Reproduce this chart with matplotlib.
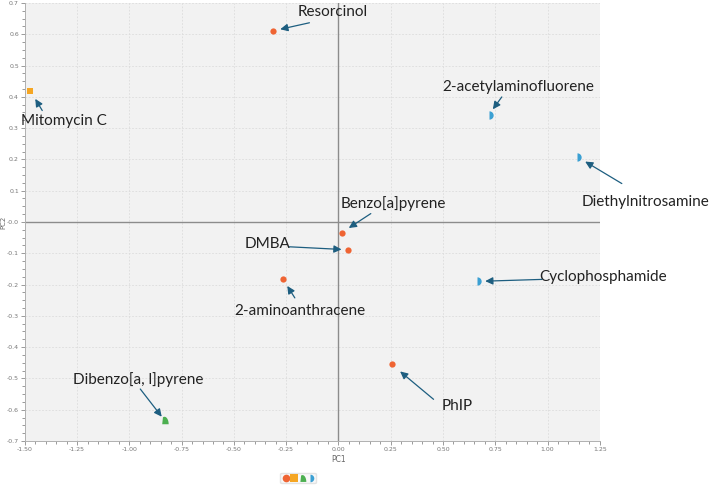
import numpy as np
import matplotlib
matplotlib.use("Agg")
import matplotlib.pyplot as plt
from matplotlib.path import Path
from matplotlib.lines import Line2D
from matplotlib.ticker import AutoMinorLocator, FixedLocator

# PCA scores
compounds = ["Resorcinol", "Mitomycin C", "2-acetylaminofluorene", "Diethylnitrosamine",
             "Benzo[a]pyrene", "DMBA", "2-aminoanthracene", "Cyclophosphamide",
             "PhIP", "Dibenzo[a, l]pyrene"]
pc1 = [-0.311, -1.474, 0.719, 1.140, 0.016, 0.048, -0.266, 0.662, 0.254, -0.833]
pc2 = [0.611, 0.420, 0.342, 0.209, -0.034, -0.089, -0.182, -0.190, -0.455, -0.633]
group = ["circle", "square", "half", "half", "circle", "circle", "circle", "half",
         "circle", "wedge"]

x_ticks = [-1.50, -1.25, -1.00, -0.75, -0.50, -0.25, 0.00, 0.25, 0.50, 0.75, 1.00, 1.25]
y_ticks = [0.7, 0.6, 0.5, 0.4, 0.3, 0.2, 0.1, 0.0, -0.1, -0.2, -0.3, -0.4, -0.5, -0.6, -0.7]
y_tick_labels = ["0.7", "0.6", "0.5", "0.4", "0.3", "0.2", "0.1", "-0.0", "-0.1", "-0.2",
                 "-0.3", "-0.4", "-0.5", "-0.6", "-0.7"]

# label layout: text offset, arrow tail offset (pixels from the point), gap at the head (pt)
label_layout = {
    "Resorcinol": ((59, 19), (36, 8), 5),
    "Mitomycin C": ((34, -30), (12, -20), 7),
    "2-acetylaminofluorene": ((29, 28), (13, 18), 5),
    "Diethylnitrosamine": ((69, -45), (45, -27), 7),
    "Benzo[a]pyrene": ((52, 29), (29, 19), 6),
    "DMBA": ((-81, 6), (-59, 3), 5),
    "2-aminoanthracene": ((17, -32), (12, -19), 6),
    "Cyclophosphamide": ((126, 4), (65, 2), 6),
    "PhIP": ((66, -42), (42, -35), 8),
    "Dibenzo[a, l]pyrene": ((-26, 40), (-24, 31), 3),
}

# sector-like marker for the green group
ang = np.linspace(0, np.pi * 0.62, 12)
wedge_verts = [(-0.55, -0.9)] + [(np.cos(a), np.sin(a) * 1.8 - 0.9) for a in ang] + [(-0.55, -0.9)]
wedge_marker = Path(wedge_verts)

styles = {
    "circle": dict(marker="o", color="#EF6433", ms=4.5, fillstyle="full"),
    "square": dict(marker="s", color="#F5A623", ms=5, fillstyle="full"),
    "half": dict(marker="o", color="#3BA0D3", ms=6, fillstyle="right"),
    "wedge": dict(marker=wedge_marker, color="#4CAF50", ms=6, fillstyle="full"),
}

arrow_color = "#1D5E80"
tick_color = "#8A8A8A"

fig = plt.figure(figsize=(7.09, 4.87), dpi=100)
ax = fig.add_axes([0.035, 0.0945, 0.811, 0.8995])
ax.set_facecolor("#F2F2F2")

for g, st in styles.items():
    xs = [x for x, gg in zip(pc1, group) if gg == g]
    ys = [y for y, gg in zip(pc2, group) if gg == g]
    ax.plot(xs, ys, linestyle="none", marker=st["marker"], markersize=st["ms"],
            markerfacecolor=st["color"], markerfacecoloralt="none",
            fillstyle=st["fillstyle"], markeredgewidth=0, zorder=4)

ax.axhline(0, color="#8C8C8C", lw=1.0, zorder=2)
ax.axvline(0, color="#8C8C8C", lw=1.0, zorder=2)

for name, x, y in zip(compounds, pc1, pc2):
    txt_off, tail_off, gap = label_layout[name]
    ax.annotate(name, xy=(x, y), xytext=txt_off, textcoords="offset pixels",
                ha="center", va="center", fontsize=11, family="Lato", color="#222222",
                zorder=5)
    ax.annotate("", xy=(x, y), xytext=tail_off, textcoords="offset pixels",
                arrowprops=dict(arrowstyle="-|>,head_length=0.45,head_width=0.22",
                                color=arrow_color, lw=0.9, shrinkA=0, shrinkB=gap),
                zorder=5)

ax.set_xlim(-1.5, 1.25)
ax.set_ylim(-0.7, 0.7)
ax.xaxis.set_major_locator(FixedLocator(x_ticks))
ax.set_xticklabels([f"{t:.2f}" for t in x_ticks])
ax.yaxis.set_major_locator(FixedLocator(y_ticks))
ax.set_yticklabels(y_tick_labels)
ax.xaxis.set_minor_locator(AutoMinorLocator(5))
ax.yaxis.set_minor_locator(AutoMinorLocator(4))
ax.tick_params(which="both", colors=tick_color, labelsize=4.5, labelcolor="#777777", width=0.6)
ax.tick_params(which="major", length=3, pad=1.2)
ax.tick_params(which="minor", length=2)
ax.grid(True, which="major", color="#DCDCDC", linestyle=(0, (2, 2)), linewidth=0.6)

for side in ["top", "right"]:
    ax.spines[side].set_visible(False)
for side in ["left", "bottom"]:
    ax.spines[side].set_color("#B0B0B0")
    ax.spines[side].set_linewidth(0.7)

ax.set_xlabel("PC1", fontsize=5.5, color="#666666", va="center")
ax.xaxis.set_label_coords(0.545, -0.043)
ax.set_ylabel("PC2", fontsize=5, color="#666666", va="center")
ax.yaxis.set_label_coords(-0.037, 0.5)

handles = []
for g in ["circle", "square", "wedge", "half"]:
    st = styles[g]
    handles.append(Line2D([], [], linestyle="none", marker=st["marker"], markersize=5.5,
                          markerfacecolor=st["color"], markerfacecoloralt="none",
                          fillstyle=st["fillstyle"], markeredgewidth=0))
fig.legend(handles, ["", "", "", ""], loc="center", bbox_to_anchor=(298 / 709, 1 - 478 / 487),
           ncol=4, frameon=True, handlelength=0.9, handletextpad=0, columnspacing=0.25,
           borderpad=0.35, fontsize=5, edgecolor="#DDDDDD", facecolor="#F7F7F7")

fig.savefig("out.png", dpi=100)
